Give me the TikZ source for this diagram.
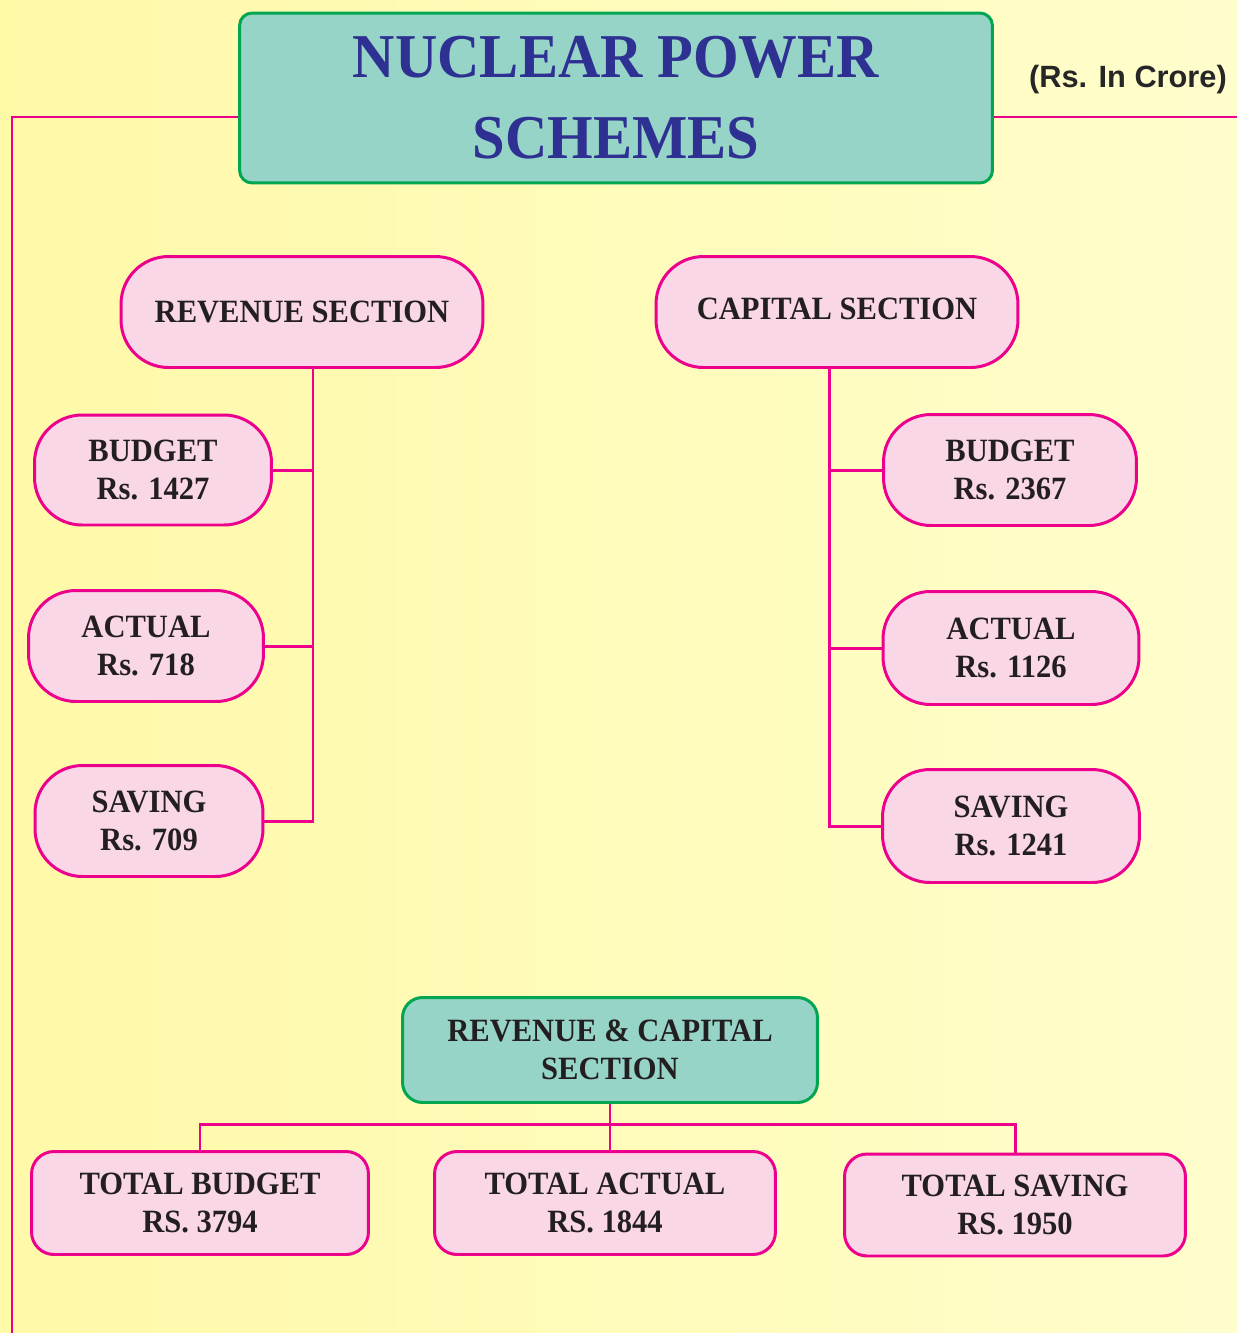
\documentclass[tikz,border=0pt]{standalone}
\usepackage{fontspec}
\setmainfont{Liberation Serif}[FakeStretch=0.94]
\newfontfamily\unitfont{Liberation Sans}

\definecolor{bgleft}{HTML}{FFF9A8}
\definecolor{bgright}{HTML}{FFFDCC}
\definecolor{boxpink}{HTML}{F9D7E6}
\definecolor{linkpink}{HTML}{EC008C}
\definecolor{boxteal}{HTML}{96D4C8}
\definecolor{boxgreen}{HTML}{00A651}
\definecolor{titleblue}{HTML}{2E3192}
\definecolor{boxtext}{HTML}{231F20}

\begin{document}
\begin{tikzpicture}[x=0.02cm, y=-0.02cm]
  \tikzstyle{every node}=[align=center, inner sep=0pt, font=\bfseries\fontsize{18.5}{22}\selectfont, text=boxtext]
  \tikzstyle{pinkbox}=[draw=linkpink, fill=boxpink, line width=1.7pt, rounded corners=0.95cm]
  \tikzstyle{totalbox}=[pinkbox, rounded corners=0.45cm]
  \tikzstyle{tealbox}=[draw=boxgreen, fill=boxteal, line width=1.7pt, rounded corners=0.4cm]
  \tikzstyle{edge}=[linkpink, line width=1.7pt]

  \useasboundingbox (0,0) rectangle (1237,1333);
  \shade[left color=bgleft, right color=bgright] (0,0) rectangle (1237,1333);

  % heading
  \node[tealbox, rounded corners=0.25cm, minimum width=15.06cm, minimum height=3.4cm, text=titleblue, font=\bfseries\fontsize{35.5}{46}\selectfont] (title) at (616,98) {NUCLEAR POWER\\SCHEMES};
  \node[font=\unitfont\bfseries\fontsize{17.5}{20}\selectfont, text=black!85] (unit) at (1128,80) {(Rs. In Crore)};

  % revenue side
  \node[pinkbox, minimum width=7.24cm, minimum height=2.22cm] (rev) at (302,312) {REVENUE SECTION};
  \node[pinkbox, minimum width=4.74cm, minimum height=2.2cm] (revbud) at (153,470) {BUDGET\\Rs. 1427};
  \node[pinkbox, minimum width=4.7cm, minimum height=2.22cm] (revact) at (146,646) {ACTUAL\\Rs. 718};
  \node[pinkbox, minimum width=4.56cm, minimum height=2.22cm] (revsav) at (149,821) {SAVING\\Rs. 709};

  % capital side
  \node[pinkbox, minimum width=7.24cm, minimum height=2.22cm] (cap) at (837,312) {\raisebox{0.12cm}{CAPITAL SECTION}};
  \node[pinkbox, minimum width=5.06cm, minimum height=2.22cm] (capbud) at (1010,470) {BUDGET\\Rs. 2367};
  \node[pinkbox, minimum width=5.12cm, minimum height=2.26cm] (capact) at (1011,648) {ACTUAL\\Rs. 1126};
  \node[pinkbox, minimum width=5.14cm, minimum height=2.26cm] (capsav) at (1011,826) {SAVING\\Rs. 1241};

  % totals
  \node[tealbox, minimum width=8.3cm, minimum height=2.1cm] (rc) at (610,1050) {REVENUE \& CAPITAL\\SECTION};
  \node[totalbox, minimum width=6.74cm, minimum height=2.06cm] (totbud) at (200,1203) {TOTAL BUDGET\\RS. 3794};
  \node[totalbox, minimum width=6.82cm, minimum height=2.06cm] (totact) at (605,1203) {TOTAL ACTUAL\\RS. 1844};
  \node[totalbox, minimum width=6.82cm, minimum height=2.04cm] (totsav) at (1015,1205) {TOTAL SAVING\\RS. 1950};

  \coordinate (tl) at (12,117);
  \coordinate (bl) at (12,1333);
  \coordinate (tr) at (1237,117);
  \coordinate (revspine) at (313,0);
  \coordinate (capspine) at (829,0);
  \coordinate (bar) at (610,1124);

  \draw[edge] (title.west |- tl) -- (tl) -- (bl);
  \draw[edge] (title.east |- tr) -- (tr);

  \draw[edge] (rev.south -| revspine) |- (revsav);
  \draw[edge] (revbud) -- (revbud -| revspine);
  \draw[edge] (revact) -- (revact -| revspine);

  \draw[edge] (cap.south -| capspine) |- (capsav);
  \draw[edge] (capbud) -- (capbud -| capspine);
  \draw[edge] (capact) -- (capact -| capspine);

  \draw[edge] (rc.south) -- (rc.south |- totact.north);
  \draw[edge] (totbud.north) |- (bar) -| (totsav.north);
\end{tikzpicture}
\end{document}
